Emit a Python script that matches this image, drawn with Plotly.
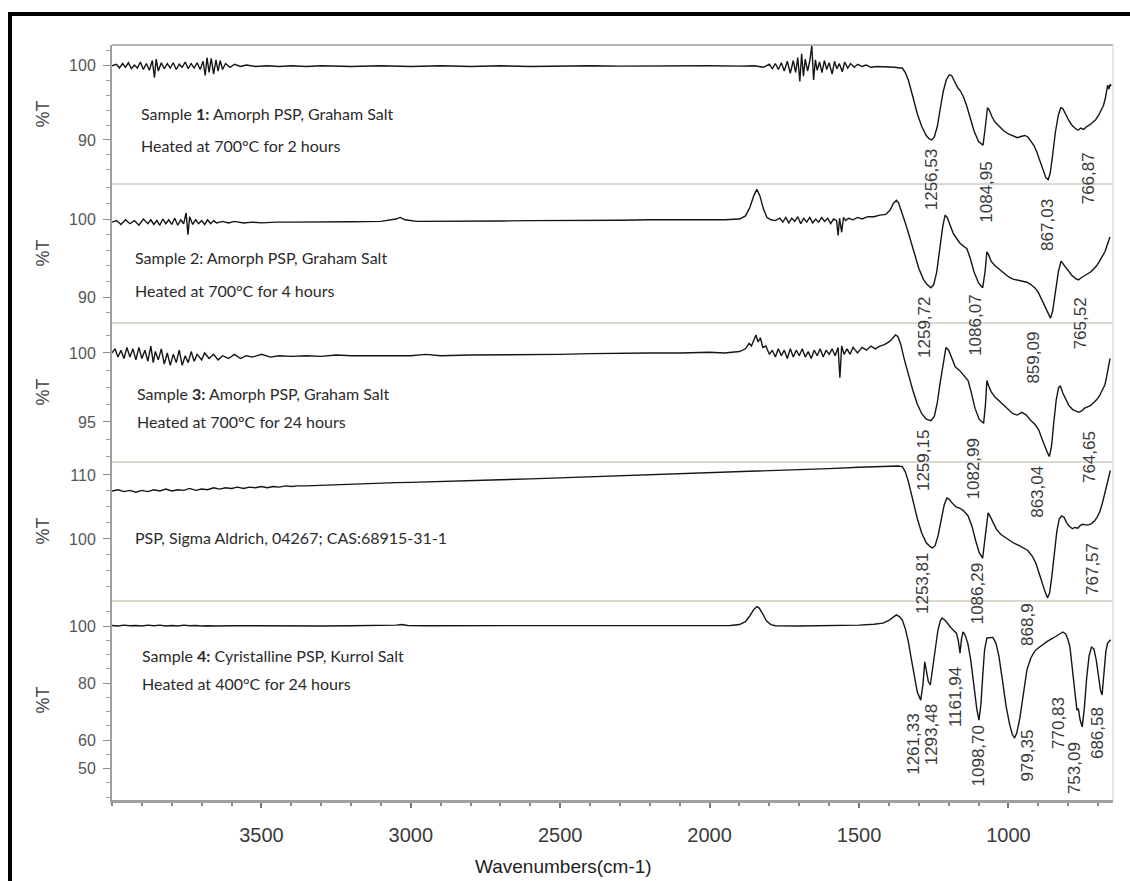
import plotly.graph_objects as go
from plotly.subplots import make_subplots

# ---------------------------------------------------------------- data
wavenumber_ticks = [3500, 3000, 2500, 2000, 1500, 1000]

# (wavenumber cm-1, %T) pairs, high to low wavenumber
sample1 = [
    (4000, 99.9), (3985, 100.1), (3975, 99.6), (3965, 100.2), (3955, 99.7), (3945, 100.3),
    (3935, 99.5), (3925, 100.0), (3915, 99.6), (3905, 100.4), (3895, 99.4), (3885, 100.2),
    (3875, 99.3), (3865, 100.6), (3858, 98.3), (3852, 100.8), (3845, 99.2), (3835, 100.3),
    (3825, 99.5), (3815, 100.2), (3805, 99.6), (3795, 100.3), (3785, 99.4), (3775, 100.1),
    (3765, 99.7), (3755, 100.4), (3745, 99.5), (3735, 100.2), (3725, 99.6), (3715, 100.3),
    (3705, 99.4), (3695, 100.5), (3688, 98.6), (3682, 101.0), (3675, 99.0), (3668, 100.9),
    (3660, 98.8), (3652, 100.7), (3645, 99.2), (3638, 100.6), (3630, 99.4), (3620, 100.2),
    (3605, 99.7), (3590, 100.1), (3570, 99.8), (3550, 100.0), (3520, 99.8), (3480, 99.9),
    (3440, 99.8), (3400, 99.9), (3350, 99.8), (3300, 99.9), (3200, 99.8), (3100, 99.9),
    (3000, 99.8), (2900, 99.9), (2800, 99.8), (2700, 99.9), (2600, 99.8), (2500, 99.85),
    (2400, 99.9), (2300, 99.85), (2200, 99.9), (2100, 99.85), (2000, 99.9), (1900, 99.85),
    (1850, 99.9), (1820, 99.7), (1800, 100.1), (1790, 99.5), (1780, 100.2), (1770, 99.4),
    (1760, 100.3), (1750, 99.2), (1740, 100.5), (1730, 98.9), (1720, 100.6), (1712, 99.0),
    (1705, 101.0), (1698, 97.8), (1692, 101.5), (1686, 98.5), (1680, 100.8), (1672, 99.2),
    (1665, 100.5), (1658, 102.6), (1652, 98.0), (1646, 100.7), (1640, 99.3), (1632, 100.4),
    (1624, 99.0), (1616, 100.6), (1608, 99.4), (1600, 100.3), (1590, 98.8), (1582, 100.5),
    (1574, 99.5), (1566, 100.2), (1556, 99.1), (1548, 100.4), (1538, 99.6), (1528, 100.2),
    (1516, 99.7), (1504, 100.1), (1490, 99.8), (1476, 100.0), (1460, 99.7), (1440, 99.8),
    (1420, 99.8), (1400, 99.7), (1380, 99.7), (1365, 99.6), (1355, 99.6), (1345, 99.0),
    (1335, 98.0), (1320, 95.8), (1305, 93.5), (1290, 91.8), (1275, 90.6), (1265, 90.15),
    (1256.53, 90.0), (1248, 90.4), (1238, 91.8), (1228, 94.2), (1218, 96.5), (1208, 98.0),
    (1198, 98.7), (1190, 98.6), (1180, 97.8), (1170, 97.0), (1160, 96.5), (1150, 95.7),
    (1140, 94.6), (1128, 93.0), (1115, 91.2), (1100, 89.8), (1090, 89.4), (1084.95, 89.3),
    (1078, 91.5), (1070, 94.3), (1064, 94.0), (1055, 93.1), (1045, 92.4), (1030, 91.8),
    (1015, 91.2), (1000, 90.8), (985, 90.5), (970, 90.3), (955, 90.5), (945, 90.6),
    (935, 90.4), (925, 89.9), (915, 89.3), (905, 88.4), (895, 87.3), (885, 86.0),
    (875, 85.0), (867.03, 84.7), (860, 85.6), (852, 88.0), (843, 91.0), (833, 93.3),
    (825, 94.3), (818, 94.2), (808, 93.3), (798, 92.6), (788, 92.0), (778, 91.6),
    (766.87, 91.3), (758, 91.6), (748, 91.4), (738, 91.8), (728, 92.0), (718, 92.3),
    (708, 92.7), (698, 93.3), (690, 93.9), (682, 94.6), (676, 95.5), (672, 96.4),
    (668, 97.3), (664, 96.8), (660, 97.4), (656, 97.2),
]

sample2 = [
    (4000, 99.6), (3985, 99.8), (3970, 99.3), (3955, 99.9), (3940, 99.4), (3925, 99.8),
    (3910, 99.2), (3895, 100.0), (3880, 99.4), (3870, 99.9), (3860, 99.3), (3850, 99.8),
    (3840, 99.2), (3830, 100.0), (3820, 99.4), (3810, 99.9), (3800, 99.3), (3790, 100.1),
    (3780, 99.2), (3770, 99.9), (3760, 99.4), (3752, 100.8), (3746, 98.0), (3740, 100.3),
    (3730, 99.3), (3720, 99.9), (3710, 99.4), (3700, 99.8), (3690, 99.3), (3680, 99.9),
    (3670, 99.4), (3660, 99.8), (3650, 99.5), (3630, 99.7), (3610, 99.5), (3590, 99.7),
    (3560, 99.5), (3530, 99.6), (3500, 99.5), (3450, 99.6), (3400, 99.6), (3300, 99.6),
    (3200, 99.65), (3100, 99.7), (3050, 100.0), (3035, 100.2), (3020, 99.9), (2980, 99.7),
    (2900, 99.7), (2800, 99.75), (2700, 99.75), (2600, 99.8), (2500, 99.8), (2400, 99.8),
    (2300, 99.85), (2200, 99.9), (2100, 99.9), (2000, 99.9), (1950, 99.9), (1900, 100.0),
    (1880, 100.4), (1865, 101.5), (1852, 103.0), (1842, 103.8), (1832, 103.0), (1820, 101.3),
    (1808, 100.2), (1795, 99.9), (1780, 99.8), (1765, 100.1), (1755, 99.6), (1745, 100.2),
    (1735, 99.5), (1725, 100.1), (1715, 99.7), (1705, 100.3), (1695, 99.4), (1685, 100.1),
    (1675, 99.6), (1665, 100.2), (1655, 99.5), (1645, 100.0), (1635, 99.6), (1625, 100.2),
    (1615, 99.7), (1605, 100.1), (1595, 99.4), (1585, 100.0), (1575, 99.8), (1570, 97.9),
    (1565, 100.1), (1558, 98.3), (1552, 100.2), (1545, 99.8), (1535, 100.1), (1520, 99.9),
    (1505, 100.2), (1490, 100.0), (1470, 100.3), (1450, 100.3), (1430, 100.5), (1410, 100.6),
    (1395, 101.2), (1385, 102.0), (1375, 102.4), (1368, 102.1), (1358, 101.0), (1345, 99.5),
    (1330, 97.6), (1315, 95.6), (1300, 93.7), (1285, 92.3), (1272, 91.6), (1259.72, 91.2),
    (1250, 91.6), (1240, 93.2), (1230, 96.0), (1220, 99.0), (1212, 100.5), (1205, 100.2),
    (1195, 99.2), (1185, 98.2), (1175, 97.6), (1162, 96.9), (1150, 96.5), (1139, 96.2),
    (1128, 95.0), (1115, 93.2), (1100, 91.8), (1086.07, 91.2), (1078, 93.3), (1072, 95.8),
    (1066, 95.4), (1058, 94.6), (1045, 94.0), (1030, 93.5), (1018, 93.1), (1000, 92.6),
    (985, 92.3), (971, 92.2), (955, 92.0), (938, 91.9), (925, 91.6), (912, 91.2),
    (900, 90.6), (890, 89.8), (878, 88.7), (866, 87.7), (859.09, 87.3), (852, 88.2),
    (843, 90.8), (833, 93.2), (824, 94.6), (818, 94.3), (808, 93.7), (798, 93.2),
    (788, 92.8), (776, 92.4), (765.52, 92.2), (755, 92.5), (745, 92.7), (735, 92.9),
    (725, 93.2), (715, 93.6), (705, 94.0), (695, 94.6), (685, 95.3), (677, 95.8),
    (670, 96.6), (664, 97.3), (660, 97.7),
]

sample3 = [
    (4000, 100.0), (3990, 100.3), (3980, 99.7), (3970, 100.2), (3960, 99.6), (3950, 100.4),
    (3940, 99.7), (3930, 100.3), (3920, 99.5), (3910, 100.4), (3900, 99.6), (3890, 100.2),
    (3880, 99.4), (3870, 100.5), (3862, 99.3), (3855, 100.1), (3845, 99.5), (3835, 100.3),
    (3825, 99.2), (3815, 100.0), (3805, 99.1), (3795, 99.9), (3785, 99.3), (3775, 100.2),
    (3765, 99.1), (3755, 99.8), (3745, 99.3), (3735, 100.1), (3725, 99.4), (3715, 99.9),
    (3700, 99.5), (3690, 100.0), (3675, 99.6), (3660, 99.9), (3645, 99.5), (3630, 99.8),
    (3610, 99.6), (3590, 99.9), (3570, 99.6), (3550, 99.8), (3530, 99.7), (3500, 99.9),
    (3470, 99.7), (3440, 99.8), (3400, 99.75), (3350, 99.8), (3300, 99.75), (3250, 99.85),
    (3200, 99.8), (3150, 99.8), (3100, 99.85), (3000, 99.8), (2950, 99.9), (2900, 99.8),
    (2800, 99.85), (2700, 99.85), (2600, 99.9), (2500, 99.9), (2400, 99.95), (2300, 100.0),
    (2200, 100.0), (2100, 100.0), (2000, 100.05), (1950, 100.0), (1900, 100.1), (1880, 100.3),
    (1868, 100.7), (1860, 100.5), (1852, 101.0), (1845, 101.3), (1838, 100.8), (1830, 101.1),
    (1822, 100.4), (1812, 100.5), (1800, 99.9), (1790, 100.2), (1780, 99.7), (1770, 100.3),
    (1760, 99.8), (1750, 100.2), (1740, 99.6), (1730, 100.3), (1720, 99.7), (1710, 100.2),
    (1700, 99.8), (1690, 100.3), (1680, 99.7), (1670, 100.1), (1660, 99.6), (1650, 100.2),
    (1640, 99.8), (1630, 100.3), (1620, 99.7), (1610, 100.2), (1600, 99.9), (1590, 100.3),
    (1580, 99.8), (1570, 100.4), (1564, 98.2), (1558, 100.5), (1550, 99.9), (1540, 100.3),
    (1530, 99.9), (1520, 100.4), (1505, 100.0), (1490, 100.4), (1475, 100.2), (1460, 100.5),
    (1445, 100.3), (1430, 100.5), (1415, 100.6), (1400, 100.8), (1390, 101.0), (1378, 101.3),
    (1370, 101.2), (1360, 100.6), (1348, 99.5), (1335, 98.4), (1320, 97.3), (1305, 96.3),
    (1290, 95.6), (1275, 95.2), (1259.15, 95.1), (1248, 95.4), (1238, 96.4), (1228, 97.9),
    (1218, 99.4), (1209, 100.4), (1200, 100.2), (1190, 99.6), (1178, 99.0), (1162, 98.7),
    (1150, 98.4), (1135, 98.0), (1125, 97.2), (1112, 96.0), (1098, 95.2), (1082.99, 94.9),
    (1077, 96.2), (1072, 98.0), (1066, 97.6), (1058, 97.2), (1045, 96.8), (1030, 96.5),
    (1018, 96.2), (1000, 95.9), (985, 95.6), (971, 95.5), (955, 95.7), (940, 95.5),
    (925, 95.1), (910, 94.8), (898, 94.4), (888, 93.8), (878, 93.2), (870, 92.8),
    (863.04, 92.5), (856, 93.2), (848, 95.0), (840, 96.6), (832, 97.5), (826, 97.6),
    (818, 97.1), (808, 96.6), (798, 96.2), (785, 95.9), (774, 95.8), (764.65, 95.7),
    (755, 95.8), (745, 96.0), (735, 96.1), (725, 96.2), (715, 96.4), (705, 96.6),
    (695, 96.9), (685, 97.3), (677, 97.7), (671, 98.3), (667, 98.9), (663, 99.4),
    (660, 99.6),
]

psp_sigma = [
    (4000, 107.5), (3980, 107.7), (3960, 107.4), (3940, 107.6), (3920, 107.3), (3900, 107.6),
    (3880, 107.4), (3860, 107.7), (3840, 107.5), (3820, 107.8), (3800, 107.5), (3780, 107.7),
    (3760, 107.6), (3740, 107.9), (3720, 107.6), (3700, 107.8), (3680, 107.7), (3660, 108.0),
    (3640, 107.8), (3620, 108.0), (3600, 107.9), (3580, 108.1), (3560, 107.9), (3540, 108.1),
    (3520, 108.0), (3500, 108.2), (3480, 108.0), (3460, 108.2), (3440, 108.1), (3420, 108.3),
    (3400, 108.2), (3380, 108.3), (3350, 108.3), (3300, 108.4), (3250, 108.5), (3200, 108.55),
    (3150, 108.6), (3100, 108.7), (3050, 108.8), (3000, 108.85), (2950, 108.9), (2900, 108.95),
    (2800, 109.1), (2700, 109.25), (2600, 109.4), (2500, 109.55), (2400, 109.7), (2300, 109.85),
    (2200, 110.0), (2100, 110.15), (2000, 110.3), (1900, 110.5), (1800, 110.65), (1700, 110.85),
    (1600, 111.0), (1500, 111.2), (1450, 111.3), (1400, 111.4), (1370, 111.4), (1355, 111.3),
    (1345, 110.5), (1335, 109.0), (1320, 106.2), (1305, 103.2), (1290, 100.9), (1275, 99.4),
    (1262, 98.8), (1253.81, 98.6), (1245, 99.0), (1235, 100.6), (1225, 103.0), (1215, 105.3),
    (1206, 106.4), (1198, 106.2), (1188, 105.6), (1175, 105.0), (1162, 104.8), (1150, 104.4),
    (1135, 103.6), (1122, 102.0), (1110, 99.8), (1098, 97.9), (1086.29, 97.0), (1080, 99.2),
    (1074, 102.0), (1068, 104.1), (1062, 103.6), (1052, 102.6), (1040, 101.5), (1025, 100.7),
    (1010, 100.2), (995, 99.7), (980, 99.3), (965, 99.0), (950, 98.6), (935, 98.2),
    (920, 97.3), (908, 96.2), (897, 94.6), (887, 93.0), (877, 91.7), (868.9, 90.8),
    (862, 91.6), (855, 94.0), (847, 97.8), (838, 101.2), (830, 103.1), (822, 103.6),
    (814, 103.4), (806, 102.6), (796, 102.0), (786, 101.6), (777, 101.8), (767.57, 101.7),
    (760, 102.1), (752, 102.3), (742, 102.2), (732, 102.2), (722, 102.4), (712, 102.8),
    (702, 103.5), (694, 104.3), (686, 105.5), (678, 107.0), (670, 108.6), (663, 110.0),
    (659, 110.7),
]

sample4 = [
    (4000, 100.2), (3980, 100.0), (3960, 100.3), (3940, 100.1), (3920, 100.2), (3900, 100.0),
    (3880, 100.3), (3860, 100.1), (3840, 100.3), (3820, 100.0), (3800, 100.2), (3780, 100.0),
    (3760, 100.3), (3740, 100.1), (3720, 100.2), (3700, 100.0), (3680, 100.1), (3650, 100.0),
    (3600, 100.1), (3500, 100.0), (3400, 100.0), (3300, 100.0), (3200, 100.1), (3100, 100.1),
    (3050, 100.3), (3030, 100.5), (3010, 100.2), (2950, 100.1), (2800, 100.1), (2600, 100.1),
    (2400, 100.1), (2200, 100.1), (2000, 100.1), (1930, 100.2), (1900, 100.5), (1880, 101.5),
    (1865, 103.6), (1852, 105.8), (1842, 106.8), (1834, 106.3), (1822, 104.2), (1810, 101.8),
    (1795, 100.5), (1780, 100.1), (1700, 100.0), (1600, 100.1), (1500, 100.3), (1450, 100.6),
    (1420, 101.0), (1400, 102.0), (1385, 103.3), (1375, 103.9), (1365, 103.3), (1355, 102.1),
    (1345, 99.0), (1335, 94.5), (1325, 88.5), (1315, 82.0), (1305, 76.8), (1293.48, 74.0),
    (1286, 79.5), (1280, 87.4), (1274, 84.0), (1268, 80.5), (1261.33, 79.3), (1255, 84.5),
    (1246, 92.0), (1236, 98.5), (1228, 101.8), (1222, 102.8), (1212, 102.0), (1202, 100.5),
    (1193, 99.5), (1184, 98.5), (1174, 97.5), (1168, 95.0), (1161.94, 90.5), (1157, 95.5),
    (1152, 97.9), (1145, 96.8), (1136, 94.0), (1126, 88.0), (1116, 79.5), (1106, 71.0),
    (1098.70, 67.0), (1092, 72.5), (1086, 82.5), (1080, 91.5), (1072, 95.8), (1062, 96.0),
    (1052, 96.0), (1042, 94.0), (1032, 89.5), (1020, 81.0), (1008, 72.0), (996, 65.5),
    (987, 62.0), (979.35, 60.7), (972, 62.5), (962, 67.5), (950, 76.0), (938, 84.6),
    (925, 88.8), (912, 91.2), (900, 92.3), (885, 93.5), (870, 94.6), (850, 95.8),
    (835, 96.8), (818, 97.9), (808, 97.2), (800, 95.0), (794, 92.6), (788, 87.0),
    (782, 80.0), (776, 73.5), (770.83, 70.5), (766, 71.0), (760, 67.0), (753.09, 64.6),
    (746, 71.0), (738, 82.0), (730, 89.5), (722, 92.6), (714, 92.0), (706, 88.0),
    (698, 82.0), (692, 77.5), (686.58, 75.8), (680, 84.0), (674, 91.0), (668, 94.0),
    (662, 94.6), (658, 95.2),
]

peaks1 = ["1256,53", "1084,95", "867,03", "766,87"]
peaks2 = ["1259,72", "1086,07", "859,09", "765,52"]
peaks3 = ["1259,15", "1082,99", "863,04", "764,65"]
peaks_psp = ["1253,81", "1086,29", "868,9", "767,57"]
peaks4 = ["1261,33", "1293,48", "1161,94", "1098,70", "979,35", "770,83", "753,09", "686,58"]

captions = [
    ["Sample <b>1:</b> Amorph PSP, Graham Salt", "Heated at 700°C for 2 hours"],
    ["Sample 2: Amorph PSP, Graham Salt", "Heated at 700°C for 4 hours"],
    ["Sample <b>3:</b> Amorph PSP, Graham Salt", "Heated at 700°C for 24 hours"],
    ["PSP, Sigma Aldrich, 04267; CAS:68915-31-1"],
    ["Sample <b>4:</b> Cyristalline PSP, Kurrol Salt", "Heated at 400°C for 24 hours"],
]

y_tick_values = [[90, 100], [90, 100], [95, 100], [100, 110], [50, 60, 80, 100]]

# ---------------------------------------------------------------- layout constants
W, H = 1130, 881
L, R, T, B = 112, 17, 45, 81
panel_px = [45, 184, 323, 462, 601, 800]          # panel boundaries (page px)
plot_h = H - T - B
plot_w = W - L - R

def px_y(py):
    return (H - B - py) / plot_h

def px_x(px):
    return (px - L) / plot_w

panel_heights = [panel_px[i + 1] - panel_px[i] for i in range(5)]
y_ranges = [[84.13, 102.67], [86.67, 104.49], [92.10, 102.17], [90.31, 112.03], [38.95, 108.77]]
minor_steps = [2, 2, 1.25, 2.5, 5]

series = [sample1, sample2, sample3, psp_sigma, sample4]
peak_sets = [peaks1, peaks2, peaks3, peaks_psp, peaks4]
# per-label (horizontal shift px, gap below the band minimum px)
label_offsets = [
    [(0, 7), (4, 15), (0, 17), (10, 20)],
    [(-7, 7), (-8, 5), (-17, 12), (2, 15)],
    [(-8, 7), (-10, 13), (-12, 7), (11, 17)],
    [(-10, 3), (-5, 3), (-20, 3), (14, 13)],
    [(-17, 27), (11, 2), (-5, 12), (0, 3), (12, -10), (-19, -15), (-7, 13), (-4, 10)],
]
caption_pos = [(139, [113, 145]), (133, [257, 290]), (135, [393, 421]), (133, [537]), (140, [655, 683])]

fig = make_subplots(rows=5, cols=1, shared_xaxes=True, vertical_spacing=0,
                    row_heights=panel_heights)

label_font = dict(family="Liberation Sans, Arial, sans-serif", size=17, color="#3a3a3a")
annotations = []

for i, data in enumerate(series):
    row = i + 1
    wn = [p[0] for p in data]
    tr = [p[1] for p in data]
    fig.add_trace(go.Scatter(x=wn, y=tr, mode="lines",
                             line=dict(color="#151515", width=1.4),
                             showlegend=False, hoverinfo="skip"), row=row, col=1)

    lookup = dict(data)
    xr = "x" if row == 1 else f"x{row}"
    yr = "y" if row == 1 else f"y{row}"
    for lab, (dx, gap) in zip(peak_sets[i], label_offsets[i]):
        v = float(lab.replace(",", "."))
        annotations.append(dict(
            x=v, y=lookup[v], xref=xr, yref=yr, text=lab, showarrow=False,
            textangle=-90, xanchor="center", yanchor="top",
            xshift=dx, yshift=-gap, font=label_font))

    fig.update_yaxes(
        row=row, col=1, range=y_ranges[i], tickmode="array", tickvals=y_tick_values[i],
        showline=True, linecolor="#a0a0a0", linewidth=2, mirror=False,
        ticks="outside", ticklen=7, tickwidth=1, tickcolor="#8a8a8a",
        minor=dict(ticks="outside", ticklen=4, tick0=100, dtick=minor_steps[i],
                   tickcolor="#9a9a9a", tickwidth=1),
        showgrid=False, zeroline=False, ticklabelstandoff=4,
        tickfont=dict(family="Liberation Sans, Arial, sans-serif", size=16, color="#555555"))

    # "%T" label centred on the panel
    mid = (panel_px[i] + panel_px[i + 1]) / 2
    annotations.append(dict(
        x=px_x(42), y=px_y(mid), xref="paper", yref="paper", text="%T",
        textangle=-90, showarrow=False, xanchor="center", yanchor="middle",
        font=dict(family="Liberation Sans, Arial, sans-serif", size=18, color="#444444")))

    # caption text
    cx, cys = caption_pos[i]
    for line, cy in zip(captions[i], cys):
        annotations.append(dict(
            x=px_x(cx), y=px_y(cy), xref="paper", yref="paper", text=line,
            showarrow=False, xanchor="left", yanchor="middle",
            font=dict(family="Lato, Carlito, sans-serif", size=16, color="#2b2b2b")))

fig.update_xaxes(range=[4000, 650], showgrid=False, zeroline=False,
                 showline=False, ticks="", showticklabels=False)
fig.update_xaxes(
    row=5, col=1, showline=True, linecolor="#a0a0a0", linewidth=2.5,
    ticks="outside", ticklen=5, tickcolor="#777777", tickwidth=1.5,
    tickmode="array", tickvals=wavenumber_ticks, showticklabels=True,
    minor=dict(ticks="outside", ticklen=3, tick0=0, dtick=100, tickcolor="#888888", tickwidth=1.5),
    ticklabelstandoff=10,
    tickfont=dict(family="Liberation Sans, Arial, sans-serif", size=20, color="#3a3a3a"))

annotations.append(dict(
    x=px_x(563), y=px_y(866), xref="paper", yref="paper", text="Wavenumbers(cm-1)",
    showarrow=False, xanchor="center", yanchor="middle",
    font=dict(family="Liberation Sans, Arial, sans-serif", size=19, color="#222222")))

shapes = []
# panel separators and frame of the stacked plot area
for k, py in enumerate(panel_px[:-1]):
    shapes.append(dict(type="line", xref="paper", yref="paper", x0=0, x1=1,
                       y0=px_y(py), y1=px_y(py),
                       line=dict(color="#b5b5ad" if k == 0 else "#d9d9d0", width=2)))
shapes.append(dict(type="line", xref="paper", yref="paper", x0=1, x1=1,
                   y0=0, y1=1, line=dict(color="#e2e2da", width=1.5)))
# outer black frame (top and left edges)
shapes.append(dict(type="line", xref="paper", yref="paper",
                   x0=px_x(8), x1=px_x(W + 2), y0=px_y(14), y1=px_y(14),
                   line=dict(color="#000000", width=4)))
shapes.append(dict(type="line", xref="paper", yref="paper",
                   x0=px_x(10), x1=px_x(10), y0=px_y(14), y1=px_y(H + 2),
                   line=dict(color="#000000", width=4)))

fig.update_layout(
    width=W, height=H,
    margin=dict(l=L, r=R, t=T, b=B, autoexpand=False),
    paper_bgcolor="white", plot_bgcolor="white",
    annotations=annotations, shapes=shapes,
    showlegend=False,
)

fig.write_html("out.html")
